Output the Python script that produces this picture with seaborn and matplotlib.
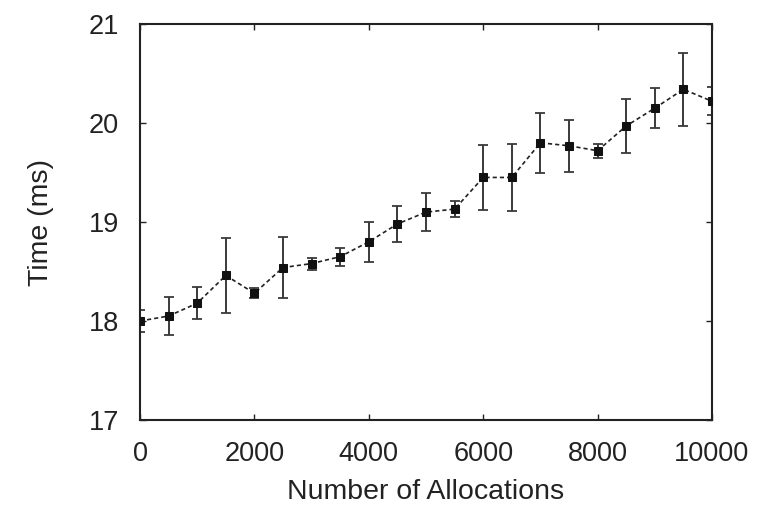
import matplotlib
matplotlib.use("Agg")
import matplotlib.pyplot as plt
import seaborn as sns
import pandas as pd

allocations = [0, 500, 1000, 1500, 2000, 2500, 3000, 3500, 4000, 4500, 5000,
               5500, 6000, 6500, 7000, 7500, 8000, 8500, 9000, 9500, 10000]
time_ms = [18.00, 18.05, 18.18, 18.46, 18.28, 18.54, 18.58, 18.65, 18.80, 18.98, 19.10,
           19.13, 19.45, 19.45, 19.80, 19.77, 19.72, 19.97, 20.15, 20.34, 20.22]
time_err = [0.11, 0.19, 0.16, 0.38, 0.05, 0.31, 0.06, 0.09, 0.20, 0.18, 0.19,
            0.08, 0.33, 0.34, 0.30, 0.26, 0.07, 0.27, 0.20, 0.37, 0.14]
x_ticks = [0, 2000, 4000, 6000, 8000, 10000]
y_ticks = [17, 18, 19, 20, 21]

df = pd.DataFrame({"alloc": allocations, "time": time_ms, "err": time_err})

sns.set_style("ticks")
plt.rcParams["font.family"] = ["Liberation Sans", "DejaVu Sans"]

fig = plt.figure(figsize=(7.73, 5.07), dpi=100)
ax = fig.add_axes([140 / 773, 1 - 420 / 507, 572 / 773, 396 / 507])

ax.errorbar(df["alloc"], df["time"], yerr=df["err"], fmt="none",
            ecolor="#3a3a3a", elinewidth=1.4, capsize=3.3, capthick=1.3, zorder=2)
sns.lineplot(data=df, x="alloc", y="time", ax=ax, color="#222222",
             linestyle=(0, (2.5, 1.8)), linewidth=1.2, marker="s", markersize=6,
             markeredgecolor="#111111", markerfacecolor="#111111", zorder=3)

ax.set_xlim(0, 10000)
ax.set_ylim(17, 21)
ax.set_xticks(x_ticks)
ax.set_yticks(y_ticks)
ax.tick_params(direction="in", length=4, width=1, labelsize=19.5,
               top=True, right=True, colors="#222222")
ax.tick_params(axis="x", pad=15)
ax.tick_params(axis="y", pad=15)
for s in ax.spines.values():
    s.set_linewidth(1.5)
    s.set_color("#222222")
    s.set_visible(True)

ax.set_xlabel("Number of Allocations", fontsize=20.5, color="#222222", labelpad=9)
ax.set_ylabel("Time (ms)", fontsize=20.5, color="#222222", labelpad=25)

fig.savefig("out.png", dpi=100, facecolor="white")
